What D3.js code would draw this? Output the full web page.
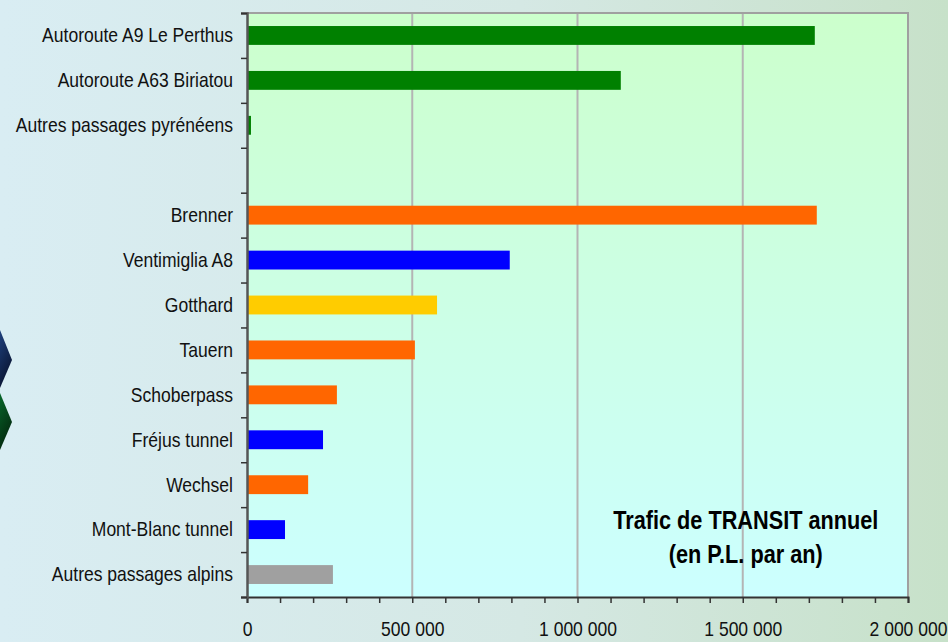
<!DOCTYPE html>
<html>
<head>
<meta charset="utf-8">
<script src="https://cdn.jsdelivr.net/npm/d3@7"></script>
<style>
body { margin: 0; overflow: hidden; }
text { font-family: 'Liberation Sans', Arial, sans-serif; }
</style>
</head>
<body>
<div class="chart"></div>
<script>
var width = 948;
var height = 642;

// passages, top to bottom (the empty one is the gap between the two groups)
var passages = ['Autoroute A9 Le Perthus', 'Autoroute A63 Biriatou', 'Autres passages pyrénéens', '',
	'Brenner', 'Ventimiglia A8', 'Gotthard', 'Tauern', 'Schoberpass', 'Fréjus tunnel', 'Wechsel',
	'Mont-Blanc tunnel', 'Autres passages alpins'];
var trafic = [1718000, 1131000, 12000, null, 1724000, 795000, 575000, 508000, 272000, 230000, 185000, 115000, 260000];
var zone = ['pyr', 'pyr', 'pyr', '', 'at', 'fr', 'ch', 'at', 'at', 'fr', 'at', 'fr', 'autre'];
var xTicks = [0, 500000, 1000000, 1500000, 2000000];
var legend = ['Trafic de TRANSIT annuel', '(en P.L. par an)'];

// the chart uses a narrow face: squeeze Liberation Sans horizontally
var narrow = 0.835;

var margin = {top: 13, right: 40, bottom: 45, left: 247};
var w = 908 - margin.left;
var h = 597 - margin.top;

var svg = d3.select('.chart')
	.append('svg')
	.attr('width', width)
	.attr('height', height);

var defs = svg.append('defs');

var bg = defs.append('linearGradient').attr('id', 'bg')
	.attr('x1', '0%').attr('x2', '100%').attr('y1', '0%').attr('y2', '0%');
bg.append('stop').attr('offset', '0%').attr('stop-color', '#d9edf3');
bg.append('stop').attr('offset', '55%').attr('stop-color', '#d5e8e4');
bg.append('stop').attr('offset', '100%').attr('stop-color', '#c7e1c9');

var plotBg = defs.append('linearGradient').attr('id', 'plotBg')
	.attr('x1', '0%').attr('x2', '0%').attr('y1', '0%').attr('y2', '100%');
plotBg.append('stop').attr('offset', '0%').attr('stop-color', '#ccffcc');
plotBg.append('stop').attr('offset', '100%').attr('stop-color', '#ccffff');

var blueG = defs.append('linearGradient').attr('id', 'blueG')
	.attr('x1', '0%').attr('x2', '100%').attr('y1', '0%').attr('y2', '100%');
blueG.append('stop').attr('offset', '0%').attr('stop-color', '#2a5aa8');
blueG.append('stop').attr('offset', '100%').attr('stop-color', '#050a20');

var greenG = defs.append('linearGradient').attr('id', 'greenG')
	.attr('x1', '0%').attr('x2', '100%').attr('y1', '0%').attr('y2', '100%');
greenG.append('stop').attr('offset', '0%').attr('stop-color', '#0a8a3a');
greenG.append('stop').attr('offset', '100%').attr('stop-color', '#021a08');

svg.append('rect')
	.attr('width', width)
	.attr('height', height)
	.attr('fill', 'url(#bg)');

// little chevrons sticking in from the left edge
svg.append('polygon')
	.attr('points', '-20,330 0,330 12,360 0,388 -20,388')
	.attr('fill', 'url(#blueG)');
svg.append('polygon')
	.attr('points', '-20,393 0,393 12,422 0,450 -20,450')
	.attr('fill', 'url(#greenG)');

var g = svg.append('g')
	.attr('transform', 'translate(' + margin.left + ',' + margin.top + ')');

var x = d3.scaleLinear().domain([0, 2000000]).range([0, w]);
var y = d3.scaleBand().domain(d3.range(passages.length)).range([0, h])
	.paddingInner(0.58).paddingOuter(0.29);
var yEdge = d3.scaleLinear().domain([0, passages.length]).range([0, h]);

var color = d3.scaleOrdinal()
	.domain(['pyr', 'at', 'fr', 'ch', 'autre'])
	.range(['#008000', '#ff6600', '#0000ff', '#ffcc00', '#a0a0a0']);

g.append('rect')
	.attr('width', w)
	.attr('height', h)
	.attr('fill', 'url(#plotBg)');

g.selectAll('.grid')
	.data(xTicks.slice(1, -1))
	.enter().append('line')
	.attr('class', 'grid')
	.attr('x1', function(d){ return x(d) })
	.attr('x2', function(d){ return x(d) })
	.attr('y1', 0)
	.attr('y2', h)
	.attr('stroke', '#b4b4b4')
	.attr('stroke-width', 2);

// top and right frame
g.append('path')
	.attr('d', 'M0,0H' + w + 'V' + h)
	.attr('fill', 'none')
	.attr('stroke', '#a0a0a0')
	.attr('stroke-width', 2);

g.selectAll('.bar')
	.data(trafic)
	.enter().append('rect')
	.attr('class', 'bar')
	.filter(function(d){ return d !== null })
	.attr('x', 0)
	.attr('y', function(d){ return y(trafic.indexOf(d)) })
	.attr('height', y.bandwidth())
	.attr('width', function(d){ return x(d) })
	.attr('fill', function(d){ return color(zone[trafic.indexOf(d)]) });

// bottom axis: minor ticks every 100 000, labels on the major ones
var xAxis = d3.axisBottom(x)
	.tickValues(d3.range(0, 2000001, 100000))
	.tickSize(6)
	.tickPadding(18)
	.tickFormat(function(d){
		return xTicks.indexOf(d) >= 0 ? d3.format(',')(d).replace(/,/g, ' ') : '';
	});

var gx = g.append('g')
	.attr('transform', 'translate(0,' + h + ')')
	.call(xAxis);
gx.select('.domain').attr('stroke', '#333').attr('stroke-width', 2);
gx.selectAll('.tick line').attr('stroke', '#333').attr('stroke-width', 1.5);
gx.selectAll('.tick text')
	.attr('font-size', '21px')
	.attr('fill', '#111')
	.attr('transform', 'scale(' + narrow + ',1)');

// left axis: ticks between categories
var yTicks = d3.axisLeft(yEdge)
	.tickValues(d3.range(passages.length + 1))
	.tickSize(6)
	.tickFormat('');
var gy = g.append('g').call(yTicks);
gy.select('.domain').attr('stroke', '#555').attr('stroke-width', 2.5);
gy.selectAll('.tick line').attr('stroke', '#333').attr('stroke-width', 1.5);

g.selectAll('.label')
	.data(passages)
	.enter().append('text')
	.attr('class', 'label')
	.attr('transform', function(d, i){
		return 'translate(-14,' + (y(i) + y.bandwidth() / 2 - 0.5) + ') scale(' + narrow + ',1)';
	})
	.attr('dy', '0.35em')
	.attr('text-anchor', 'end')
	.attr('font-size', '21px')
	.attr('fill', '#111')
	.text(function(d){ return d });

g.selectAll('.legend')
	.data(legend)
	.enter().append('text')
	.attr('class', 'legend')
	.attr('transform', function(d, i){
		return 'translate(' + (x(1500000) + 3) + ',' + (529 - margin.top + i * 34) + ') scale(' + narrow + ',1)';
	})
	.attr('text-anchor', 'middle')
	.attr('font-size', '26px')
	.attr('font-weight', 'bold')
	.attr('fill', '#000')
	.text(function(d){ return d });
</script>
</body>
</html>
